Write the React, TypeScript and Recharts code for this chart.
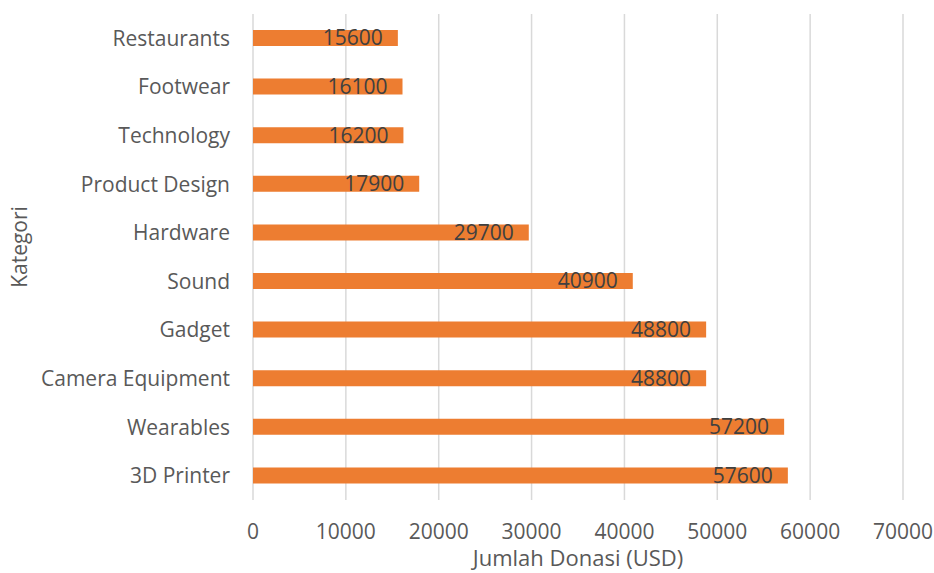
import React from 'react';
import { BarChart, Bar, XAxis, YAxis, CartesianGrid, LabelList, Label } from 'recharts';

const categories = ['Restaurants', 'Footwear', 'Technology', 'Product Design', 'Hardware', 'Sound', 'Gadget', 'Camera Equipment', 'Wearables', '3D Printer'];
const donations = [15600, 16100, 16200, 17900, 29700, 40900, 48800, 48800, 57200, 57600];
const xTicks = [0, 10000, 20000, 30000, 40000, 50000, 60000, 70000];

const data = categories.map((c, i) => ({ category: c, value: donations[i] }));

const FONT = "'Open Sans', sans-serif";
const AXIS_COLOR = '#595959';

const renderXLabel = (props: any) => {
  const vb = props.viewBox || {};
  return (
    <text x={vb.x + vb.width / 2} y={566} textAnchor="middle" fill={AXIS_COLOR} fontSize={22} fontFamily={FONT}>
      Jumlah Donasi (USD)
    </text>
  );
};

const renderYLabel = (props: any) => {
  const vb = props.viewBox || {};
  const cy = vb.y + vb.height / 2 - 10;
  return (
    <text x={19} y={cy} textAnchor="middle" dominantBaseline="central" transform={`rotate(-90, 19, ${cy})`} fill={AXIS_COLOR} fontSize={21} fontFamily={FONT}>
      Kategori
    </text>
  );
};

export default function App() {
  return (
    <div style={{ position: 'absolute', left: 0, top: 0, background: '#fff' }}>
      <BarChart
        width={934}
        height={573}
        data={data}
        layout="vertical"
        margin={{ top: 14, right: 31, left: 0, bottom: 0 }}
        barSize={16}
      >
        <CartesianGrid horizontal={false} stroke="#d9d9d9" strokeWidth={1.5} />
        <XAxis
          type="number"
          domain={[0, 70000]}
          ticks={xTicks}
          interval={0}
          axisLine={false}
          tickLine={false}
          tickSize={0}
          tickMargin={24}
          height={73}
          tick={{ fill: AXIS_COLOR, fontSize: 21, fontFamily: FONT }}
        >
          <Label content={renderXLabel} />
        </XAxis>
        <YAxis
          type="category"
          dataKey="category"
          width={253}
          axisLine={false}
          tickLine={false}
          tickSize={0}
          tickMargin={23}
          interval={0}
          tick={{ fill: AXIS_COLOR, fontSize: 21, fontFamily: FONT }}
        >
          <Label content={renderYLabel} />
        </YAxis>
        <Bar dataKey="value" fill="#ED7D31" isAnimationActive={false}>
          <LabelList dataKey="value" position="insideRight" offset={15} fill="#404040" fontSize={21} fontFamily={FONT} />
        </Bar>
      </BarChart>
    </div>
  );
}
